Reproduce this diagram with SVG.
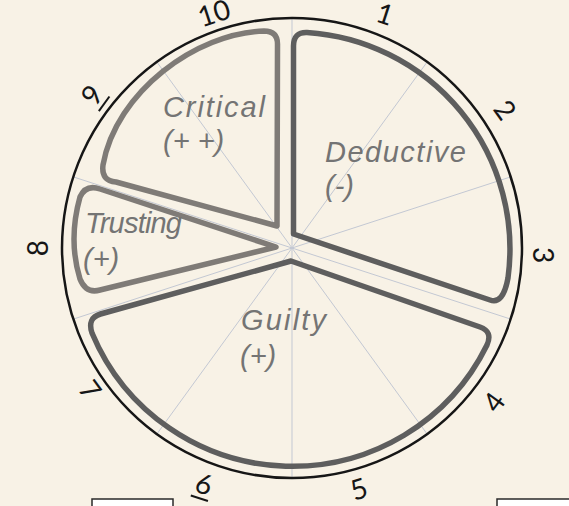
<svg xmlns="http://www.w3.org/2000/svg" width="569" height="506" viewBox="0 0 569 506">
<style>
.slice{fill:none;stroke-width:5.5;stroke-linejoin:round;stroke-linecap:round}
.dark{stroke:#5e5e5e}
.light{stroke:#7f7b77}
.lbl{font-family:"Liberation Sans",Arial,sans-serif;font-style:italic;font-weight:400;font-size:29px;fill:#747474}
.num{font-family:Lato,"Noto Sans",sans-serif;font-weight:400;font-size:28px;fill:#161616;text-anchor:middle}
.ul{stroke:#161616;stroke-width:2}
.spoke{stroke:#c3c8d3;stroke-width:1}
.box{fill:#ffffff;stroke:#2a2a2a;stroke-width:1.5}
</style>
<rect x="0" y="0" width="569" height="506" fill="#f8f2e6"/>
<g id="connectors">
<line class="spoke" x1="292" y1="248" x2="292" y2="18"/>
<line class="spoke" x1="292" y1="248" x2="427.2" y2="61.9"/>
<line class="spoke" x1="292" y1="248" x2="510.7" y2="176.9"/>
<line class="spoke" x1="292" y1="248" x2="510.7" y2="319.1"/>
<line class="spoke" x1="292" y1="248" x2="427.2" y2="434.1"/>
<line class="spoke" x1="292" y1="248" x2="292" y2="478"/>
<line class="spoke" x1="292" y1="248" x2="156.8" y2="434.1"/>
<line class="spoke" x1="292" y1="248" x2="73.3" y2="319.1"/>
<line class="spoke" x1="292" y1="248" x2="73.3" y2="176.9"/>
<line class="spoke" x1="292" y1="248" x2="156.8" y2="61.9"/>
</g>
<g id="dial">
<circle cx="292" cy="248" r="230" fill="none" stroke="#161616" stroke-width="2.5"/>
</g>
<g id="deductive">
<path class="slice dark" d="M293.5,234 L293.5,46 Q293.5,32 307,32.5 A217,217 0 0 1 508,278 Q503,305 490,300 Z"/>
<text class="lbl"><tspan x="325" y="162" textLength="141">Deductive</tspan><tspan x="325" y="196">(-)</tspan></text>
</g>
<g id="guilty">
<path class="slice dark" d="M291,261 L480,327 Q493,331.5 487,345 A217,217 0 0 1 92,333 Q87,318 100.5,314 Z"/>
<text class="lbl"><tspan x="241" y="330" textLength="85">Guilty</tspan><tspan x="240" y="366">(+)</tspan></text>
</g>
<g id="trusting">
<path class="slice light" d="M276,247 L100,189 Q86,184 80,197 Q68,240 80,279 Q86,294 100,290 Z"/>
<text class="lbl"><tspan x="85" y="233" textLength="97">Trusting</tspan><tspan x="83" y="269">(+)</tspan></text>
</g>
<g id="critical">
<path class="slice light" d="M277,226 L277.5,44 Q277.5,31 264,31 C196,33 116,92 103,165 Q101,181 116,182 Z"/>
<text class="lbl"><tspan x="163" y="117" textLength="102">Critical</tspan><tspan x="163" y="151">(+ +)</tspan></text>
</g>
<g id="n1" transform="translate(385,14) rotate(18)"><text class="num" y="10">1</text></g>
<g id="n2" transform="translate(505,110) rotate(54)"><text class="num" y="10">2</text></g>
<g id="n3" transform="translate(543,255) rotate(90)"><text class="num" y="10">3</text></g>
<g id="n4" transform="translate(494,402) rotate(-54)"><text class="num" y="10">4</text></g>
<g id="n5" transform="translate(359,489) rotate(-18)"><text class="num" y="10">5</text></g>
<g id="n6" transform="translate(204,484) rotate(18)"><text class="num" y="10">6</text><line class="ul" x1="-9" y1="15" x2="9" y2="15"/></g>
<g id="n7" transform="translate(90,390) rotate(54)"><text class="num" y="10">7</text></g>
<g id="n8" transform="translate(38,248) rotate(-90)"><text class="num" y="10">8</text></g>
<g id="n9" transform="translate(92,95) rotate(-54)"><text class="num" y="10">9</text><line class="ul" x1="-9" y1="15" x2="9" y2="15"/></g>
<g id="n10" transform="translate(214,13) rotate(-18)"><text class="num" y="10">10</text></g>
<g id="boxes">
<rect class="box" x="92" y="499" width="81" height="20"/>
<rect class="box" x="497" y="499" width="80" height="20"/>
</g>
</svg>
